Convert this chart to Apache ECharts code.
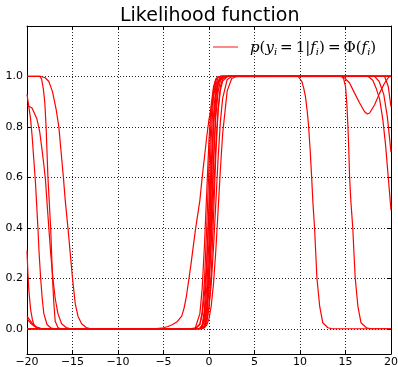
<!DOCTYPE html>
<html><head><meta charset="utf-8">
<script src="https://cdn.jsdelivr.net/npm/echarts@6/dist/echarts.min.js"></script>
<style>html,body{margin:0;padding:0;background:#fff}#c{width:398px;height:367px}</style>
</head><body><div id="c"></div>
<script>
const titleText = 'Likelihood function';
const legendName = 'p(y_i = 1|f_i) = Φ(f_i)';
const xTicks = [-20, -15, -10, -5, 0, 5, 10, 15, 20];
const yTicks = [0, 0.2, 0.4, 0.6, 0.8, 1.0];

// shared x positions of the rise near f = 0
const bundleX = [-2.5, -2, -1.5, -1, -0.75, -0.5, -0.25, 0, 0.25, 0.5, 0.75, 1, 1.25, 1.5, 2, 2.5, 3];
const rise01 = [0, 0, 0.004, 0.06, 0.16, 0.33, 0.54, 0.75, 0.89, 0.96, 0.99, 0.998, 1, 1, 1, 1, 1];
const rise02 = [0, 0, 0, 0.018, 0.067, 0.19, 0.40, 0.65, 0.84, 0.95, 0.988, 0.998, 1, 1, 1, 1, 1];
const rise03 = [0, 0, 0, 0.002, 0.016, 0.076, 0.24, 0.5, 0.76, 0.924, 0.984, 0.998, 1, 1, 1, 1, 1];
const rise04 = [0, 0, 0.001, 0.018, 0.055, 0.136, 0.274, 0.46, 0.655, 0.816, 0.919, 0.971, 0.992, 0.998, 1, 1, 1];
const rise05 = [0, 0, 0, 0.002, 0.012, 0.052, 0.159, 0.354, 0.599, 0.809, 0.933, 0.983, 0.997, 1, 1, 1, 1];
const rise06 = [0, 0, 0, 0, 0.001, 0.01, 0.067, 0.252, 0.566, 0.841, 0.966, 0.996, 1, 1, 1, 1, 1];
const rise07 = [0, 0, 0, 0.002, 0.01, 0.038, 0.111, 0.252, 0.456, 0.67, 0.841, 0.94, 0.983, 0.996, 1, 1, 1];
const rise08 = [0, 0, 0, 0, 0.001, 0.008, 0.043, 0.159, 0.387, 0.666, 0.873, 0.968, 0.995, 1, 1, 1, 1];
const rise09 = [0, 0, 0, 0.002, 0.008, 0.029, 0.081, 0.184, 0.345, 0.54, 0.726, 0.864, 0.945, 0.982, 0.999, 1, 1];
const rise10 = [0, 0, 0, 0, 0.001, 0.004, 0.023, 0.085, 0.227, 0.45, 0.691, 0.87, 0.96, 0.991, 1, 1, 1];
const rise11 = [0, 0, 0, 0.001, 0.003, 0.012, 0.034, 0.087, 0.18, 0.325, 0.5, 0.675, 0.82, 0.913, 0.988, 0.999, 1];
const rise12 = [0, 0, 0, 0, 0.001, 0.005, 0.015, 0.04, 0.092, 0.18, 0.31, 0.47, 0.63, 0.773, 0.943, 0.992, 0.999];

// the one slow rise
const wideX = [-6, -5.5, -5, -4.5, -4, -3.5, -3, -2.75, -2.5, -2.2, -2, -1.5, -1, -0.75, -0.5, -0.25, 0, 0.5, 1, 1.5, 2];
const wideY = [0, 0.002, 0.004, 0.009, 0.017, 0.028, 0.05, 0.08, 0.125, 0.2, 0.25, 0.39, 0.51, 0.6, 0.68, 0.76, 0.83, 0.93, 0.98, 0.997, 1];

// left ends (x, y)
const leftA = [[-20, 1], [-18.5, 1], [-18.0, 0.995], [-17.6, 0.98], [-17.2, 0.94], [-16.8, 0.87], [-16.5, 0.8], [-16.2, 0.68], [-16.0, 0.6], [-15.8, 0.51], [-15.5, 0.4], [-15.25, 0.3], [-15.0, 0.2], [-14.7, 0.1], [-14.4, 0.05], [-14.0, 0.02], [-13.5, 0.005], [-13, 0]];
const leftB = [[-20, 1], [-18.6, 1], [-18.4, 0.99], [-18.2, 0.95], [-18.04, 0.895], [-17.9, 0.8], [-17.7, 0.6], [-17.55, 0.5], [-17.4, 0.4], [-17.3, 0.3], [-17.2, 0.2], [-17.05, 0.1], [-16.9, 0.03], [-16.6, 0.005], [-16.3, 0]];
const leftC = [[-20, 0.93], [-19.8, 0.88], [-19.6, 0.83], [-19.43, 0.76], [-19.25, 0.67], [-19.07, 0.58], [-18.95, 0.5], [-18.8, 0.4], [-18.67, 0.3], [-18.5, 0.2], [-18.33, 0.12], [-18.15, 0.06], [-17.8, 0.017], [-17.4, 0.004], [-17, 0]];
const leftD = [[-20, 0.885], [-19.7, 0.88], [-19.45, 0.875], [-19.2, 0.855], [-18.9, 0.83], [-18.6, 0.78], [-18.35, 0.71], [-18.15, 0.65], [-17.97, 0.59], [-17.8, 0.5], [-17.6, 0.4], [-17.4, 0.3], [-17.15, 0.2], [-16.9, 0.12], [-16.6, 0.06], [-16.2, 0.02], [-15.7, 0.005], [-15.2, 0]];
const leftS1 = [[-20, 0.31], [-19.9, 0.22], [-19.8, 0.155], [-19.6, 0.075], [-19.4, 0.035], [-19.25, 0.017], [-19, 0.005], [-18.6, 0]];
const leftS2 = [[-20, 0.05], [-19.7, 0.035], [-19.4, 0.02], [-19, 0.008], [-18.5, 0.002], [-18, 0]];
const leftS3 = [[-20, 0.04], [-19.6, 0.022], [-19.2, 0.01], [-18.8, 0.003], [-18.3, 0]];
const leftZero = [[-20, 0]];

// right ends (x, y)
const rightR1 = [[9.8, 1], [10.0, 0.995], [10.2, 0.98], [10.4, 0.955], [10.6, 0.92], [10.8, 0.86], [10.95, 0.8], [11.13, 0.7], [11.28, 0.6], [11.42, 0.5], [11.6, 0.4], [11.73, 0.3], [11.86, 0.2], [12.16, 0.09], [12.5, 0.024], [13.07, 0.004], [13.5, 0], [20, 0]];
const rightR2 = [[14.6, 1], [14.8, 0.99], [15.0, 0.96], [15.15, 0.89], [15.27, 0.8], [15.37, 0.7], [15.45, 0.6], [15.6, 0.5], [15.8, 0.4], [15.93, 0.3], [16.07, 0.2], [16.36, 0.09], [16.7, 0.024], [17.3, 0.004], [17.8, 0], [20, 0]];
const rightDip = [[14.5, 1], [14.9, 0.994], [15.45, 0.974], [16.0, 0.934], [16.55, 0.895], [17.1, 0.86], [17.4, 0.851], [17.65, 0.855], [18.2, 0.888], [18.75, 0.934], [19.3, 0.974], [19.77, 0.998], [20, 1]];
const rightR3 = [[17.5, 1], [18.0, 0.985], [18.4, 0.95], [18.75, 0.91], [19.1, 0.83], [19.4, 0.73], [19.7, 0.6], [20, 0.47]];
const rightR4 = [[18.2, 1], [18.7, 0.98], [19.2, 0.93], [19.6, 0.84], [20, 0.7]];
const rightR5 = [[19.3, 1], [19.7, 0.96], [20, 0.88]];
const rightOne = [[20, 1]];

const curves = [
  [leftA, bundleX, rise01, rightOne],
  [leftB, bundleX, rise02, rightR1],
  [leftC, bundleX, rise03, rightR2],
  [leftD, bundleX, rise04, rightDip],
  [leftS1, bundleX, rise05, rightR3],
  [leftS2, bundleX, rise06, rightR4],
  [leftS3, bundleX, rise07, rightR5],
  [leftZero, bundleX, rise08, rightOne],
  [leftZero, bundleX, rise09, rightOne],
  [leftZero, bundleX, rise10, rightOne],
  [leftZero, bundleX, rise11, rightOne],
  [leftZero, bundleX, rise12, rightOne],
  [leftZero, wideX, wideY, rightOne]
];

const series = curves.map(([l, rx, ry, r]) => ({
  name: legendName,
  type: 'line',
  symbol: 'none',
  silent: true,
  animation: false,
  lineStyle: { color: '#ff0000', width: 1.2 },
  itemStyle: { color: '#ff0000' },
  data: l.concat(rx.map((x, j) => [x, ry[j]])).concat(r)
}));

const gridStyle = { show: true, lineStyle: { color: '#000', width: 1, type: [1, 2], opacity: 0.85 } };
const axisLine = { show: true, onZero: false, lineStyle: { color: '#000', width: 1 } };
const tickStyle = { show: true, inside: true, length: 4, lineStyle: { color: '#000', width: 1 } };

const chart = echarts.init(document.getElementById('c'), null, { renderer: 'canvas' });
chart.setOption({
  animation: false,
  backgroundColor: '#fff',
  title: {
    text: titleText, left: 120, top: 7, padding: 0,
    textStyle: { fontFamily: 'DejaVu Sans', fontSize: 19, fontWeight: 'normal', color: '#000' }
  },
  legend: {
    data: [{ name: legendName, icon: 'rect', itemStyle: { color: '#ff5555' } }],
    left: 213, top: 41, padding: 0,
    itemWidth: 25, itemHeight: 1.4,
    selectedMode: false,
    formatter: () => '{a|p}{n|(}{a|y}{s|i}{n|\u2009=\u20091|}{a|f}{s|i}{n|)\u2009=\u2009Φ(}{a|f}{s|i}{n|)}',
    textStyle: {
      rich: {
        a: { fontFamily: 'DejaVu Serif', fontStyle: 'italic', fontSize: 15, color: '#000', padding: [3, 0, 0, 0] },
        n: { fontFamily: 'DejaVu Serif', fontSize: 15, color: '#000', padding: [3, 0, 0, 0] },
        s: { fontFamily: 'DejaVu Serif', fontStyle: 'italic', fontSize: 10, color: '#000', padding: [11, 0, 0, 0] }
      },
      padding: [0, 0, 0, 7]
    }
  },
  grid: { left: 27, right: 7, top: 26, bottom: 13, containLabel: false, outerBoundsMode: 'none' },
  xAxis: [
    {
      type: 'value', min: xTicks[0], max: xTicks[xTicks.length - 1], interval: 5,
      axisLine, axisTick: tickStyle, splitLine: gridStyle,
      axisLabel: { fontFamily: 'DejaVu Sans', fontSize: 11, color: '#000', margin: 3,
        formatter: v => String(v).replace('-', '\u2212') }
    },
    {
      type: 'value', position: 'top', min: xTicks[0], max: xTicks[xTicks.length - 1], interval: 5,
      axisLine, axisTick: tickStyle, splitLine: { show: false }, axisLabel: { show: false }
    }
  ],
  yAxis: [
    {
      type: 'value', min: -0.1, max: 1.2,
      axisLine,
      axisTick: Object.assign({ customValues: yTicks }, tickStyle),
      splitLine: gridStyle,
      axisLabel: { customValues: yTicks, fontFamily: 'DejaVu Sans', fontSize: 11, color: '#000', margin: 4,
        formatter: v => v.toFixed(1) }
    },
    {
      type: 'value', position: 'right', min: -0.1, max: 1.2,
      axisLine,
      axisTick: Object.assign({ customValues: yTicks }, tickStyle),
      splitLine: { show: false }, axisLabel: { show: false }
    }
  ],
  series: series
});
</script></body></html>
